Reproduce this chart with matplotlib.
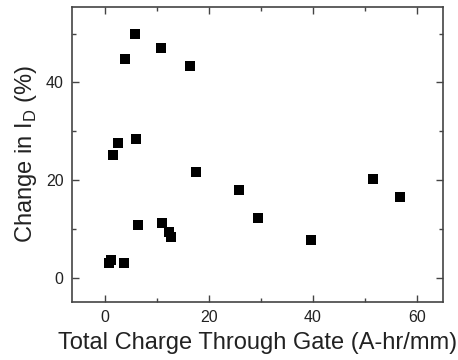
import matplotlib
matplotlib.use("Agg")
import matplotlib.pyplot as plt
from matplotlib.ticker import MultipleLocator

plt.rcParams['font.family'] = ['Liberation Sans', 'DejaVu Sans']
plt.rcParams['mathtext.fontset'] = 'custom'
plt.rcParams['mathtext.rm'] = 'Liberation Sans'

# total charge through gate (A-hr/mm) and change in drain current (%)
charge = [5.7, 10.8, 3.8, 16.4, 6.0, 2.5, 1.5, 17.5, 25.8, 51.6, 56.8,
          29.4, 39.7, 6.3, 11.0, 12.2, 12.7, 1.1, 0.7, 3.6]
change = [49.9, 47.0, 44.8, 43.3, 28.4, 27.5, 25.2, 21.6, 17.9, 20.3, 16.6,
          12.3, 7.8, 10.7, 11.1, 9.3, 8.3, 3.6, 2.9, 3.1]

fig = plt.figure(figsize=(4.58, 3.6), dpi=100)
ax = fig.add_axes([0.157, 0.161, 0.81, 0.82])

ax.scatter(charge, change, marker='s', s=42, color='black', linewidths=0)

ax.set_xlim(-6.4, 65)
ax.set_ylim(-5, 55.5)
ax.xaxis.set_major_locator(MultipleLocator(20))
ax.xaxis.set_minor_locator(MultipleLocator(10))
ax.yaxis.set_major_locator(MultipleLocator(20))
ax.yaxis.set_minor_locator(MultipleLocator(10))
ax.tick_params(which='both', direction='in', top=True, right=True,
               colors='#444444', labelcolor='#222222', width=1)
ax.tick_params(which='major', length=5, labelsize=11.5, pad=6)
ax.tick_params(which='minor', length=3)
for sp in ax.spines.values():
    sp.set_color('#444444')
    sp.set_linewidth(1.2)

ax.set_xlabel('Total Charge Through Gate (A-hr/mm)', fontsize=17, color='#222222', labelpad=5)
ax.set_ylabel(r'Change in I$_\mathregular{D}$ (%)', fontsize=17, color='#222222', labelpad=5)

fig.savefig('out.png', dpi=100)
